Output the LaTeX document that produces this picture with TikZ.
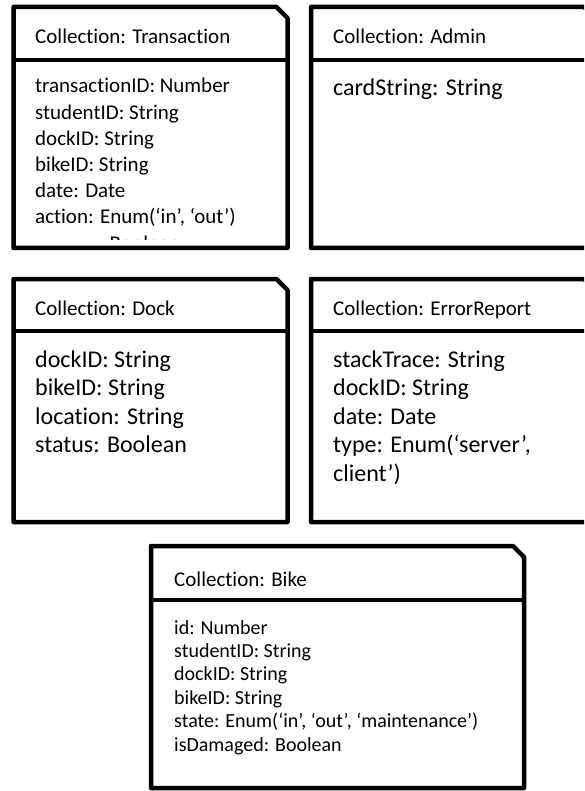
\documentclass[tikz,border=0pt]{standalone}
\usepackage{fontspec}
\setmainfont{Carlito}[Ligatures=NoCommon]
\usepackage{tikz}

% collection box: left, top, right, bottom, header line
\newcommand{\collbox}[5]{%
  \draw[frame] (#1,#2) -- (#3-11,#2) -- (#3,#2+11) -- (#3,#4) -- (#1,#4) -- cycle;
  \draw[frame] (#1,#5) -- (#3,#5);
}

\begin{document}
\begin{tikzpicture}[x=1pt, y=-1pt,
	frame/.style = {line width=4.5pt, line join=round},
	head/.style = {anchor=base west, inner sep=0pt, font=\fontsize{21}{25}\selectfont},
	small/.style = {anchor=base west, inner sep=0pt, font=\fontsize{21}{26}\selectfont},
	big/.style = {anchor=base west, inner sep=0pt, font=\fontsize{24}{28}\selectfont},
	tiny/.style = {anchor=base west, inner sep=0pt, font=\fontsize{20}{23}\selectfont}]
	\useasboundingbox (0,0) rectangle (584,791);
	\clip (0,0) rectangle (584,791);

	% Transaction
	\collbox{13.5}{7}{287.5}{248}{60}
	\node[head] (trhead) at (35,44) {Collection: Transaction};
	\begin{scope}
		\clip (13.5,60) rectangle (287.5,239.5);
		\foreach \txt [count=\i from 0] in {transactionID: Number, studentID: String,
			dockID: String, bikeID: String, date: Date, {action: Enum(‘in’, ‘out’)}}
			\node[small] (tr-\i) at (35,93+26.2*\i) {\txt};
		\node[small] (tr-6) at (109.5,250.2) {Boolean};
	\end{scope}

	% Admin
	\collbox{311}{7}{595}{248}{60}
	\node[head] (adhead) at (333,44) {Collection: Admin};
	\node[big] (ad-0) at (333,96) {cardString: String};

	% Dock
	\collbox{13.5}{279}{287.5}{522}{331}
	\node[head] (dkhead) at (35,315) {Collection: Dock};
	\foreach \txt [count=\i from 0] in {dockID: String, bikeID: String,
		location: String, status: Boolean}
		\node[big] (dk-\i) at (35,367+28.5*\i) {\txt};

	% ErrorReport
	\collbox{311}{279}{595}{522}{331}
	\node[head] (erhead) at (333,315) {Collection: ErrorReport};
	\foreach \txt [count=\i from 0] in {stackTrace: String, dockID: String,
		date: Date, {type: Enum(‘server’,}, client’)}
		\node[big] (er-\i) at (333,367+28.5*\i) {\txt};

	% Bike
	\collbox{151}{546}{524}{788}{600}
	\node[head] (bkhead) at (174,586) {Collection: Bike};
	\foreach \txt [count=\i from 0] in {id: Number, studentID: String, dockID: String,
		bikeID: String, {state: Enum(‘in’, ‘out’, ‘maintenance’)}, isDamaged: Boolean}
		\node[tiny] (bk-\i) at (174,634+23.4*\i) {\txt};
\end{tikzpicture}
\end{document}
